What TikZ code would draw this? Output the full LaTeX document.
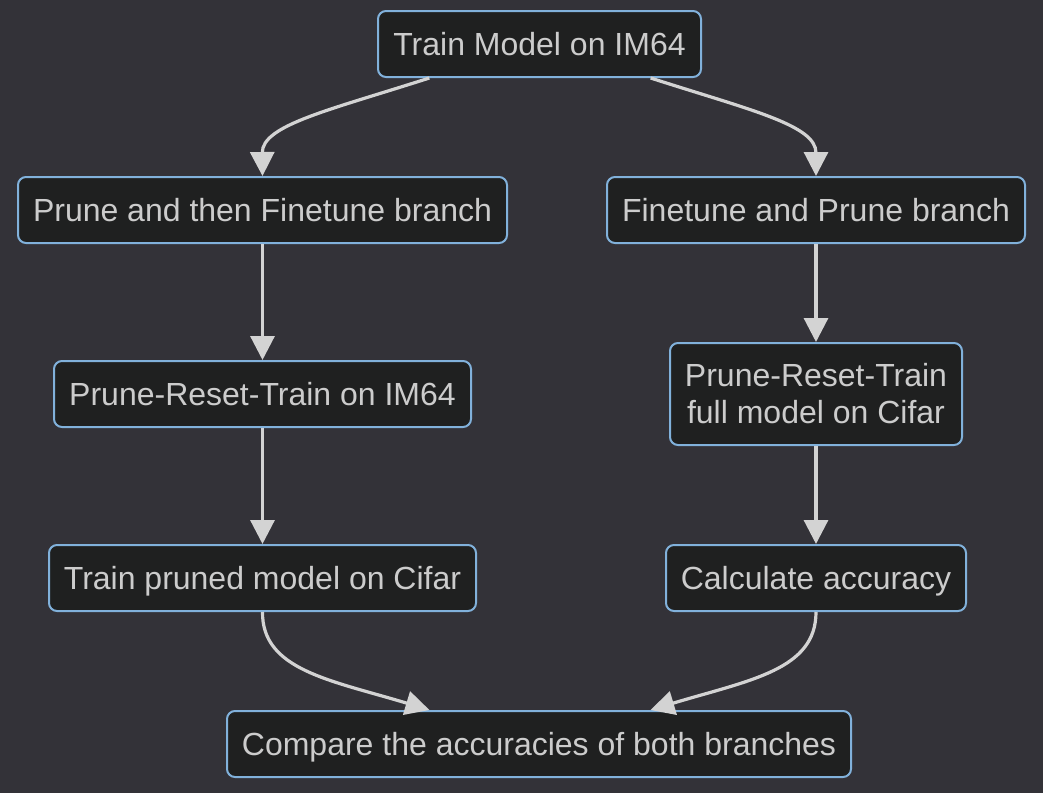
\documentclass[tikz,border=0pt]{standalone}
\usepackage{fontspec}
\setmainfont{Liberation Sans}
\usetikzlibrary{arrows.meta,calc}
\definecolor{bgc}{HTML}{333238}
\definecolor{nodefill}{HTML}{1F2020}
\definecolor{nodeborder}{HTML}{81B1DB}
\definecolor{txtc}{HTML}{CCCCCC}
\definecolor{linec}{HTML}{D3D3D3}
\tikzset{
  box/.style={draw=nodeborder, fill=nodefill, line width=1.5pt, rounded corners=6pt,
    text=txtc, font=\fontsize{24pt}{27.75pt}\selectfont, align=center,
    minimum height=49.5pt, inner sep=0pt, minimum width=#1},
  onebox/.style={box=#1, text height=21.7pt, text depth=5.1pt},
  edge/.style={draw=linec, line width=2.4pt, -{Triangle[length=18pt,width=18pt]}}
}
\begin{document}
\begin{tikzpicture}[x=0.75pt,y=-0.75pt]
\fill[bgc] (0,0) rectangle (1043,793);
\useasboundingbox (0,0) rectangle (1043,793);
\node[onebox=242.25pt] (t) at (539.5,44) {Train Model on IM64};
\node[onebox=366.75pt] (pf) at (262.5,210) {Prune and then Finetune branch};
\node[onebox=313.5pt] (fp) at (816,210) {Finetune and Prune branch};
\node[onebox=312.75pt] (pr) at (262.5,394) {Prune-Reset-Train on IM64};
\node[box=219pt, minimum height=76.5pt] (prc) at (816,394) {Prune-Reset-Train\\full model on Cifar};
\node[onebox=320.25pt] (tp) at (262.5,578) {Train pruned model on Cifar};
\node[onebox=225pt] (ca) at (816,578) {Calculate accuracy};
\node[onebox=468pt] (cmp) at (539,744) {Compare the accuracies of both branches};

\coordinate (tl) at ($(t.south west)!0.161!(t.south east)$);
\coordinate (tr) at ($(t.south west)!0.842!(t.south east)$);
\coordinate (cl) at ($(cmp.north west)!0.325!(cmp.north east)$);
\coordinate (cr) at ($(cmp.north west)!0.678!(cmp.north east)$);

\draw[edge] (tl) .. controls (330,110) and (262,125) .. (pf.north);
\draw[edge] (tr) .. controls (750,110) and (816,125) .. (fp.north);
\draw[edge] (pf.south) -- (pr.north);
\draw[edge] (fp.south) -- (prc.north);
\draw[edge] (pr.south) -- (tp.north);
\draw[edge] (prc.south) -- (ca.north);
\draw[edge] (tp.south) .. controls (262,670) and (330,680) .. (cl);
\draw[edge] (ca.south) .. controls (816,670) and (750,680) .. (cr);
\end{tikzpicture}
\end{document}
